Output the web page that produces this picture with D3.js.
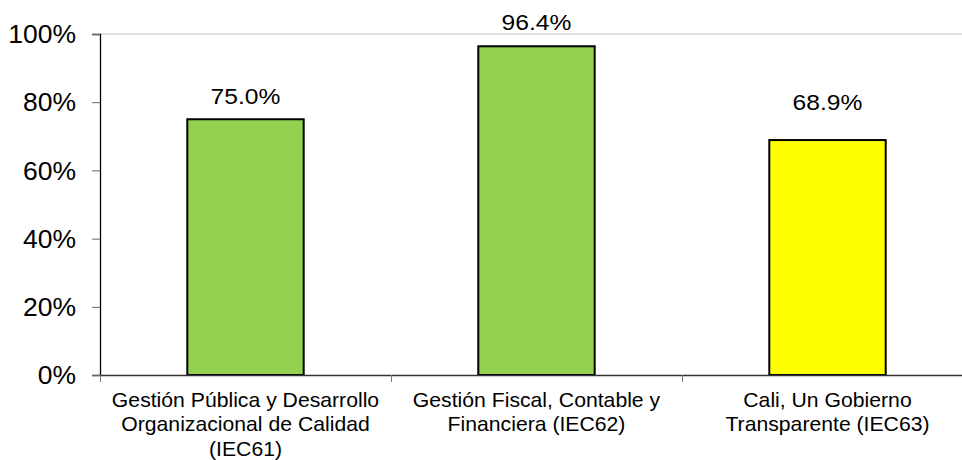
<!DOCTYPE html>
<html>
<head>
<meta charset="utf-8">
<script src="https://cdn.jsdelivr.net/npm/d3@7"></script>
<style>
  body { margin: 0; background: #fff; }
  svg { display: block; font-family: "Liberation Sans", Arial, sans-serif; }
</style>
</head>
<body>
<div id="chart"></div>
<script>
var width = 962,
    height = 460;

// data
var categories = ["IEC61", "IEC62", "IEC63"];
var categoryLines = [
  ["Gestión Pública y Desarrollo", "Organizacional de Calidad", "(IEC61)"],
  ["Gestión Fiscal, Contable y", "Financiera (IEC62)"],
  ["Cali, Un Gobierno", "Transparente (IEC63)"]
];
var values = [0.750, 0.964, 0.689];
var valueLabels = ["75.0%", "96.4%", "68.9%"];
var barColors = ["#92d050", "#92d050", "#ffff00"];
var yTicks = [0, 0.2, 0.4, 0.6, 0.8, 1];

// text in the picture is drawn a bit wide
var tickStretch = 1.06, valStretch = 1.12, catStretch = 1.06;

var plotLeft = 100, plotRight = 973, plotTop = 34, plotBottom = 375;

var x = d3.scaleBand()
    .domain(categories)
    .range([plotLeft, plotRight])
    .paddingInner(0.6)
    .paddingOuter(0.3);

var xEdge = d3.scaleLinear().domain([0, categories.length]).range([plotLeft, plotRight]);

var y = d3.scaleLinear().domain([0, 1]).range([plotBottom, plotTop]);

var svg = d3.select("#chart").append("svg")
    .attr("width", width)
    .attr("height", height);

// top grid line at 100%
svg.append("line")
    .attr("x1", plotLeft).attr("x2", plotRight)
    .attr("y1", y(1)).attr("y2", y(1))
    .attr("stroke", "#c0c0c0")
    .attr("stroke-width", 1);

// bars
svg.selectAll("rect.bar")
    .data(values)
  .enter().append("rect")
    .attr("class", "bar")
    .attr("x", function(d, i) { return x(categories[i]); })
    .attr("width", x.bandwidth())
    .attr("y", function(d) { return y(d); })
    .attr("height", function(d) { return y(0) - y(d); })
    .attr("fill", function(d, i) { return barColors[i]; })
    .attr("stroke", "#000")
    .attr("stroke-width", 2);

// value labels (the last one sits higher in the original)
var lift = [15, 16, 30];
svg.selectAll("text.val")
    .data(values)
  .enter().append("text")
    .attr("class", "val")
    .attr("transform", function(d, i) {
      return "translate(" + (x(categories[i]) + x.bandwidth() / 2) + "," + (y(d) - lift[i]) + ") scale(" + valStretch + ",1)";
    })
    .attr("text-anchor", "middle")
    .attr("font-size", 22)
    .attr("fill", "#000")
    .text(function(d, i) { return valueLabels[i]; });

// y axis
var yAxis = svg.append("g")
    .attr("transform", "translate(" + plotLeft + ",0)")
    .call(d3.axisLeft(y).tickValues(yTicks).tickFormat(d3.format(".0%")).tickSize(8).tickPadding(0));
yAxis.select(".domain").attr("stroke", "#000").attr("stroke-width", 1.3);
yAxis.selectAll(".tick line").attr("stroke", "#666");
yAxis.selectAll(".tick text")
    .attr("font-family", "Liberation Sans, Arial, sans-serif")
    .attr("font-size", 25)
    .attr("fill", "#000")
    .attr("x", -24 / tickStretch)
    .attr("dy", "0.35em")
    .attr("transform", "scale(" + tickStretch + ",1)");

// x axis
var xAxis = svg.append("g")
    .attr("transform", "translate(0," + plotBottom + ")")
    .call(d3.axisBottom(xEdge).tickValues(d3.range(categories.length + 1)).tickFormat("").tickSize(7).tickSizeOuter(0));
xAxis.select(".domain").attr("stroke", "#333").attr("stroke-width", 1.3);
xAxis.selectAll(".tick line").attr("stroke", "#777");

// category labels
var cat = svg.selectAll("g.cat")
    .data(categoryLines)
  .enter().append("g")
    .attr("class", "cat")
    .attr("transform", function(d, i) {
      return "translate(" + (x(categories[i]) + x.bandwidth() / 2) + ",407) scale(" + catStretch + ",1)";
    });

cat.selectAll("text")
    .data(function(d) { return d; })
  .enter().append("text")
    .attr("text-anchor", "middle")
    .attr("y", function(d, j) { return j * 24.5; })
    .attr("font-size", 20)
    .attr("fill", "#000")
    .text(function(d) { return d; });
</script>
</body>
</html>
